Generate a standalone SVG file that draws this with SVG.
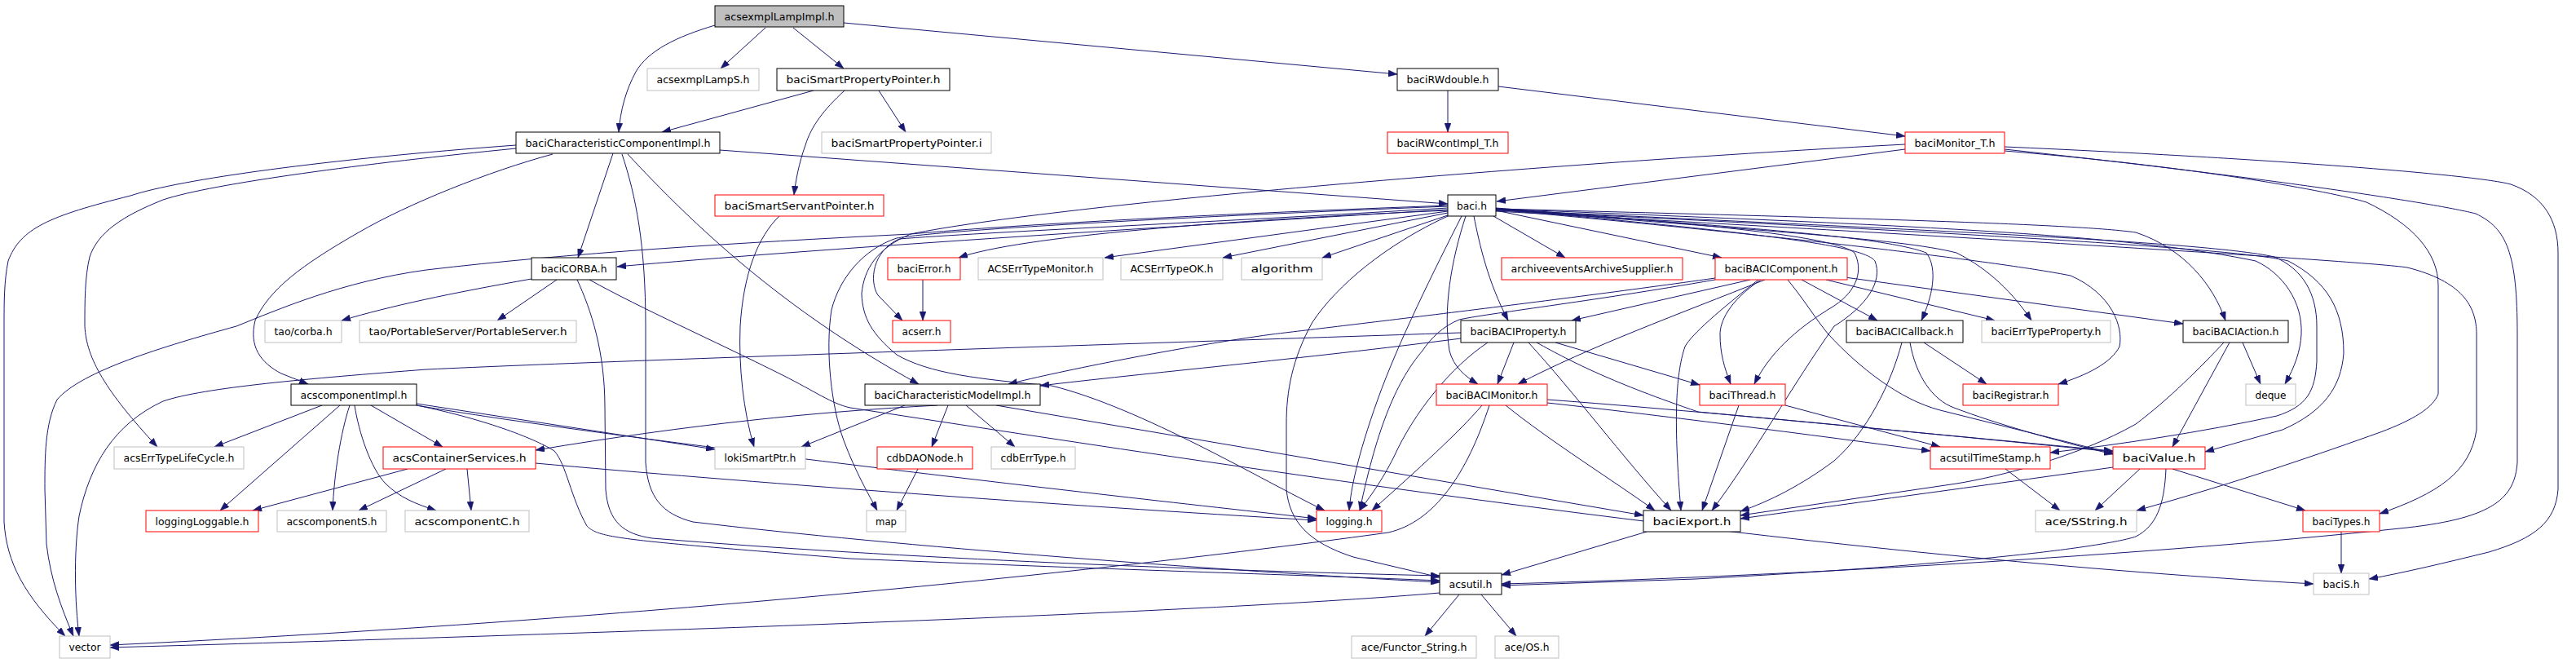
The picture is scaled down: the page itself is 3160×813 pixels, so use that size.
<svg xmlns="http://www.w3.org/2000/svg" width="3160" height="813" viewBox="0 0 3160 813">
<style>
.e{fill:none;stroke:#191970;stroke-width:1;marker-end:url(#ah)}
rect{fill:#fff;stroke-width:1}
.k{stroke:#000}
.g{stroke:#bfbfbf}
.r{stroke:#ff0000}
.root{fill:#bfbfbf;stroke:#000}
text{font-family:"DejaVu Sans","Liberation Sans",sans-serif;font-size:13px;fill:#000;text-anchor:middle}
</style>
<defs>
<marker id="ah" markerUnits="userSpaceOnUse" markerWidth="11" markerHeight="8" refX="11" refY="4" orient="auto">
<path d="M0,0 L11,4 L0,8 z" fill="#191970" stroke="#191970" stroke-width="0.5"/>
</marker>
</defs>
<rect x="0" y="0" width="3160" height="813" style="fill:#fff;stroke:none"/>
<g id="edges">
<path class="e" d="M877,31 C830,45 795,62 780,88 C768,110 761,135 759,162"/>
<path class="e" d="M939,34 L884,84"/>
<path class="e" d="M973,34 L1035,84"/>
<path class="e" d="M1035,28 L1714,91"/>
<path class="e" d="M998,111 L812,162"/>
<path class="e" d="M1036,111 C1010,135 995,155 988,178 C980,200 976,222 974,239"/>
<path class="e" d="M1078,111 L1111,162"/>
<path class="e" d="M1776,111 L1776,162"/>
<path class="e" d="M1838,106 L2337,167"/>
<path class="e" d="M883,184 L1776,250"/>
<path class="e" d="M2337,183 L1836,247"/>
<path class="e" d="M752,188 L709,316"/>
<path class="e" d="M633,178 C400,195 220,220 160,240 C60,265 25,280 10,320 C5,345 5,370 5,400 L5,640 C8,690 30,730 80,780"/>
<path class="e" d="M633,182 C450,200 260,225 200,245 C150,265 120,285 110,315 C104,340 104,370 104,400 C106,440 130,480 193,548"/>
<path class="e" d="M678,189 C600,210 500,250 440,285 C370,325 330,355 313,393 C305,425 320,445 345,458 L378,471"/>
<path class="e" d="M770,189 C850,275 960,380 1127,471"/>
<path class="e" d="M763,189 C780,240 792,300 792,400 L792,567 C795,610 812,630 850,640 C1100,670 1500,700 1766,714"/>
<path class="e" d="M956,265 C930,290 912,335 908,400 C906,450 912,505 925,548"/>
<path class="e" d="M652,342 C550,360 480,375 419,393"/>
<path class="e" d="M683,343 L610,393"/>
<path class="e" d="M708,343 C725,380 742,430 742,500 L743,600 C746,640 765,655 800,660 C1100,685 1500,700 1766,706"/>
<path class="e" d="M723,343 C790,380 870,415 960,460 C1000,480 1020,495 1043,500 C1500,570 2200,680 2838,716"/>
<path class="e" d="M1776,257 C1400,280 1000,305 757,327"/>
<path class="e" d="M1776,258 C1500,270 1250,290 1176,316"/>
<path class="e" d="M1776,259 L1355,316"/>
<path class="e" d="M1776,261 L1500,316"/>
<path class="e" d="M1776,264 L1622,316"/>
<path class="e" d="M1832,265 L1920,316"/>
<path class="e" d="M1835,258 L2112,316"/>
<path class="e" d="M1776,255 C1500,272 1200,285 1103,293 C1070,308 1066,345 1077,362 L1107,393"/>
<path class="e" d="M1132,343 L1132,393"/>
<path class="e" d="M1808,265 C1815,300 1825,345 1850,393"/>
<path class="e" d="M2147,343 L1928,393"/>
<path class="e" d="M2104,341 C1900,370 1600,405 1560,410 C1450,425 1300,455 1237,471"/>
<path class="e" d="M1792,415 C1600,440 1400,458 1276,473"/>
<path class="e" d="M1792,408 C1500,418 800,440 523,453 C380,464 250,475 200,492 C140,520 110,570 97,633 C90,680 92,740 97,780"/>
<path class="e" d="M1798,265 C1780,320 1770,380 1778,430 C1783,450 1798,462 1813,471"/>
<path class="e" d="M1857,420 L1837,471"/>
<path class="e" d="M2165,343 C2060,385 1950,425 1862,471"/>
<path class="e" d="M1793,265 C1760,330 1715,420 1690,490 C1665,560 1657,600 1655,626"/>
<path class="e" d="M1825,420 C1780,450 1735,505 1710,560 C1695,590 1680,610 1668,626"/>
<path class="e" d="M2104,343 C1950,370 1820,385 1790,392 C1770,400 1755,415 1745,430 C1715,465 1690,520 1668,626"/>
<path class="e" d="M1818,497 C1790,530 1740,575 1683,626"/>
<path class="e" d="M1847,497 C1900,540 1980,590 2030,626"/>
<path class="e" d="M1875,420 C1930,480 1990,560 2050,626"/>
<path class="e" d="M2157,343 C2110,380 2075,410 2067,425 C2055,460 2053,520 2062,626"/>
<path class="e" d="M1835,256 C2150,285 2285,300 2300,320 C2310,345 2290,375 2250,400 C2200,470 2150,560 2100,626"/>
<path class="e" d="M2133,497 L2088,626"/>
<path class="e" d="M2333,420 C2320,470 2290,530 2250,565 C2210,595 2170,615 2135,627"/>
<path class="e" d="M2592,573 C2400,600 2250,620 2135,636"/>
<path class="e" d="M2728,420 C2700,450 2660,490 2620,520 C2550,560 2450,585 2400,593 L2135,632"/>
<path class="e" d="M1222,497 L2016,632"/>
<path class="e" d="M2210,343 L2303,393"/>
<path class="e" d="M1835,256 C2150,280 2310,290 2363,310 C2378,330 2370,365 2357,393"/>
<path class="e" d="M2240,343 L2447,393"/>
<path class="e" d="M1835,256 C2150,283 2330,292 2400,310 C2440,330 2470,360 2492,393"/>
<path class="e" d="M2263,340 L2678,397"/>
<path class="e" d="M1835,256 C2300,268 2550,275 2620,285 C2680,305 2715,350 2730,393"/>
<path class="e" d="M1835,257 C2200,290 2460,322 2540,338 C2590,360 2605,400 2600,425 C2590,445 2560,460 2525,471"/>
<path class="e" d="M2360,420 L2437,471"/>
<path class="e" d="M2343,420 C2350,460 2370,490 2397,500 C2450,520 2520,540 2592,557"/>
<path class="e" d="M2193,343 C2215,370 2230,395 2243,410 C2280,450 2330,490 2380,503 L2592,556"/>
<path class="e" d="M2160,343 C2120,370 2110,395 2110,410 C2110,433 2115,450 2123,471"/>
<path class="e" d="M1835,255 C2100,275 2250,290 2275,310 C2285,330 2280,355 2250,375 C2200,405 2170,435 2152,471"/>
<path class="e" d="M1908,420 L2085,472"/>
<path class="e" d="M1885,420 C1930,445 1980,470 2083,505 L2592,553"/>
<path class="e" d="M1898,494 C2000,505 2200,530 2368,553"/>
<path class="e" d="M1898,490 C2100,505 2400,535 2592,554"/>
<path class="e" d="M2190,497 L2380,548"/>
<path class="e" d="M1835,257 C2300,280 2700,295 2790,315 C2825,330 2842,360 2842,400 L2842,443 C2840,480 2830,498 2793,510 C2700,530 2600,545 2515,555"/>
<path class="e" d="M1835,258 C2400,285 2750,305 2807,320 C2855,345 2875,380 2875,433 C2872,475 2850,505 2800,527 L2705,554"/>
<path class="e" d="M2735,420 L2665,548"/>
<path class="e" d="M2751,420 L2773,471"/>
<path class="e" d="M1835,256 C2300,275 2600,285 2767,320 C2800,335 2825,370 2823,410 C2822,430 2815,450 2803,471"/>
<path class="e" d="M1835,259 C2400,290 2900,320 2953,328 C3020,345 3038,375 3038,410 L3038,527 C3030,580 2990,605 2919,630"/>
<path class="e" d="M2459,180 C2800,195 3040,215 3080,226 C3120,240 3138,270 3138,310 L3138,600 C3135,640 3110,660 3053,677 C3000,690 2950,702 2906,710"/>
<path class="e" d="M2459,183 C2800,220 2990,250 3037,262 C3075,280 3088,310 3088,410 L3088,567 C3085,610 3060,635 2953,647 C2600,685 2100,710 1842,716"/>
<path class="e" d="M2459,185 C2700,205 2860,235 2903,248 C2960,275 2991,310 2991,350 L2991,483 C2985,500 2960,515 2920,530 C2850,555 2750,590 2621,626"/>
<path class="e" d="M2337,177 C1900,200 1300,250 1117,287 C1075,305 1060,330 1057,360 C1058,390 1070,410 1100,435 C1140,458 1200,465 1290,473 C1400,500 1550,590 1625,626"/>
<path class="e" d="M1776,253 C1400,268 1150,283 1100,292 C1060,305 1030,340 1020,380 C1012,430 1020,500 1035,540 C1050,580 1065,605 1076,626"/>
<path class="e" d="M1776,252 C1500,262 1250,275 1117,287 C900,298 700,310 523,331 C420,345 340,380 290,400 C200,425 100,455 70,490 C55,520 55,560 55,600 L57,667 C62,710 75,745 90,780"/>
<path class="e" d="M1776,265 C1700,300 1640,350 1610,395 C1585,440 1578,480 1578,520 L1578,600 C1582,640 1605,665 1660,683 L1766,708"/>
<path class="e" d="M2020,652 L1842,705"/>
<path class="e" d="M2657,575 C2655,620 2645,645 2620,658 C2590,668 2450,690 2080,710 L1842,718"/>
<path class="e" d="M2460,575 L2527,626"/>
<path class="e" d="M2625,575 L2570,626"/>
<path class="e" d="M2665,575 L2828,626"/>
<path class="e" d="M2872,652 L2872,703"/>
<path class="e" d="M1790,729 L1748,780"/>
<path class="e" d="M1817,729 L1860,780"/>
<path class="e" d="M1766,727 C1500,750 800,775 135,794"/>
<path class="e" d="M1827,497 C1800,580 1760,640 1703,653 C1400,695 800,760 135,791"/>
<path class="e" d="M395,497 L263,548"/>
<path class="e" d="M417,497 L270,626"/>
<path class="e" d="M429,497 C418,530 410,580 408,626"/>
<path class="e" d="M435,497 C440,530 455,575 473,593 C490,610 510,618 535,626"/>
<path class="e" d="M455,497 L543,548"/>
<path class="e" d="M511,495 L877,551"/>
<path class="e" d="M511,497 C700,530 1200,590 1563,630 L1615,636"/>
<path class="e" d="M511,497 C600,515 660,540 680,553 C695,570 700,610 720,645 C735,660 760,662 1043,685 C1400,700 1600,705 1766,712"/>
<path class="e" d="M500,575 L310,626"/>
<path class="e" d="M547,575 L440,626"/>
<path class="e" d="M573,575 L578,626"/>
<path class="e" d="M657,568 C900,590 1300,620 1615,638"/>
<path class="e" d="M1150,497 C1000,505 850,520 657,552"/>
<path class="e" d="M1110,497 L983,548"/>
<path class="e" d="M1163,497 L1143,548"/>
<path class="e" d="M1185,497 L1245,548"/>
<path class="e" d="M1126,575 L1100,626"/>
</g>
<g id="n1"><rect class="root" x="877" y="7" width="158" height="26"/><text x="956" y="25" textLength="135" lengthAdjust="spacingAndGlyphs">acsexmplLampImpl.h</text></g>
<g id="n2"><rect class="g" x="794" y="84" width="137" height="27"/><text x="862.5" y="102" textLength="114" lengthAdjust="spacingAndGlyphs">acsexmplLampS.h</text></g>
<g id="n3"><rect class="k" x="953" y="84" width="212" height="27"/><text x="1059" y="102" textLength="189" lengthAdjust="spacingAndGlyphs">baciSmartPropertyPointer.h</text></g>
<g id="n4"><rect class="k" x="1714" y="84" width="124" height="27"/><text x="1776" y="102" textLength="101" lengthAdjust="spacingAndGlyphs">baciRWdouble.h</text></g>
<g id="n5"><rect class="k" x="633" y="162" width="250" height="26"/><text x="758" y="180" textLength="227" lengthAdjust="spacingAndGlyphs">baciCharacteristicComponentImpl.h</text></g>
<g id="n6"><rect class="g" x="1008" y="162" width="208" height="26"/><text x="1112" y="180" textLength="185" lengthAdjust="spacingAndGlyphs">baciSmartPropertyPointer.i</text></g>
<g id="n7"><rect class="r" x="1702" y="162" width="148" height="26"/><text x="1776" y="180" textLength="125" lengthAdjust="spacingAndGlyphs">baciRWcontImpl_T.h</text></g>
<g id="n8"><rect class="r" x="2337" y="162" width="122" height="26"/><text x="2398" y="180" textLength="99" lengthAdjust="spacingAndGlyphs">baciMonitor_T.h</text></g>
<g id="n9"><rect class="r" x="877" y="239" width="207" height="26"/><text x="980.5" y="257" textLength="184" lengthAdjust="spacingAndGlyphs">baciSmartServantPointer.h</text></g>
<g id="n10"><rect class="k" x="1776" y="239" width="59" height="26"/><text x="1805.5" y="257" textLength="37" lengthAdjust="spacingAndGlyphs">baci.h</text></g>
<g id="n11"><rect class="k" x="652" y="316" width="104" height="27"/><text x="704" y="334" textLength="81" lengthAdjust="spacingAndGlyphs">baciCORBA.h</text></g>
<g id="n12"><rect class="r" x="1089" y="316" width="89" height="27"/><text x="1133.5" y="334" textLength="66" lengthAdjust="spacingAndGlyphs">baciError.h</text></g>
<g id="n13"><rect class="g" x="1200" y="316" width="153" height="27"/><text x="1276.5" y="334" textLength="130" lengthAdjust="spacingAndGlyphs">ACSErrTypeMonitor.h</text></g>
<g id="n14"><rect class="g" x="1375" y="316" width="125" height="27"/><text x="1437.5" y="334" textLength="102" lengthAdjust="spacingAndGlyphs">ACSErrTypeOK.h</text></g>
<g id="n15"><rect class="g" x="1523" y="316" width="99" height="27"/><text x="1572.5" y="334" textLength="76" lengthAdjust="spacingAndGlyphs">algorithm</text></g>
<g id="n16"><rect class="r" x="1842" y="316" width="222" height="27"/><text x="1953" y="334" textLength="199" lengthAdjust="spacingAndGlyphs">archiveeventsArchiveSupplier.h</text></g>
<g id="n17"><rect class="r" x="2104" y="316" width="162" height="27"/><text x="2185" y="334" textLength="139" lengthAdjust="spacingAndGlyphs">baciBACIComponent.h</text></g>
<g id="n18"><rect class="g" x="325" y="393" width="94" height="27"/><text x="372" y="411" textLength="71" lengthAdjust="spacingAndGlyphs">tao/corba.h</text></g>
<g id="n19"><rect class="g" x="441" y="393" width="266" height="27"/><text x="574" y="411" textLength="243" lengthAdjust="spacingAndGlyphs">tao/PortableServer/PortableServer.h</text></g>
<g id="n20"><rect class="r" x="1095" y="393" width="71" height="27"/><text x="1130.5" y="411" textLength="48" lengthAdjust="spacingAndGlyphs">acserr.h</text></g>
<g id="n21"><rect class="k" x="1792" y="393" width="141" height="27"/><text x="1862.5" y="411" textLength="118" lengthAdjust="spacingAndGlyphs">baciBACIProperty.h</text></g>
<g id="n22"><rect class="k" x="2265" y="393" width="143" height="27"/><text x="2336.5" y="411" textLength="120" lengthAdjust="spacingAndGlyphs">baciBACICallback.h</text></g>
<g id="n23"><rect class="g" x="2431" y="393" width="158" height="27"/><text x="2510" y="411" textLength="135" lengthAdjust="spacingAndGlyphs">baciErrTypeProperty.h</text></g>
<g id="n24"><rect class="k" x="2678" y="393" width="129" height="27"/><text x="2742.5" y="411" textLength="106" lengthAdjust="spacingAndGlyphs">baciBACIAction.h</text></g>
<g id="n25"><rect class="k" x="357" y="471" width="154" height="26"/><text x="434" y="489" textLength="131" lengthAdjust="spacingAndGlyphs">acscomponentImpl.h</text></g>
<g id="n26"><rect class="k" x="1061" y="471" width="215" height="26"/><text x="1168.5" y="489" textLength="192" lengthAdjust="spacingAndGlyphs">baciCharacteristicModelImpl.h</text></g>
<g id="n27"><rect class="r" x="1762" y="471" width="136" height="26"/><text x="1830" y="489" textLength="113" lengthAdjust="spacingAndGlyphs">baciBACIMonitor.h</text></g>
<g id="n28"><rect class="r" x="2085" y="471" width="105" height="26"/><text x="2137.5" y="489" textLength="82" lengthAdjust="spacingAndGlyphs">baciThread.h</text></g>
<g id="n29"><rect class="r" x="2408" y="471" width="117" height="26"/><text x="2466.5" y="489" textLength="94" lengthAdjust="spacingAndGlyphs">baciRegistrar.h</text></g>
<g id="n30"><rect class="g" x="2755" y="471" width="61" height="26"/><text x="2785.5" y="489" textLength="38" lengthAdjust="spacingAndGlyphs">deque</text></g>
<g id="n31"><rect class="g" x="140" y="548" width="159" height="27"/><text x="219.5" y="566" textLength="136" lengthAdjust="spacingAndGlyphs">acsErrTypeLifeCycle.h</text></g>
<g id="n32"><rect class="r" x="470" y="548" width="187" height="27"/><text x="563.5" y="566" textLength="164" lengthAdjust="spacingAndGlyphs">acsContainerServices.h</text></g>
<g id="n33"><rect class="g" x="877" y="548" width="111" height="27"/><text x="932.5" y="566" textLength="88" lengthAdjust="spacingAndGlyphs">lokiSmartPtr.h</text></g>
<g id="n34"><rect class="r" x="1076" y="548" width="117" height="27"/><text x="1134.5" y="566" textLength="94" lengthAdjust="spacingAndGlyphs">cdbDAONode.h</text></g>
<g id="n35"><rect class="g" x="1216" y="548" width="103" height="27"/><text x="1267.5" y="566" textLength="80" lengthAdjust="spacingAndGlyphs">cdbErrType.h</text></g>
<g id="n36"><rect class="r" x="2368" y="548" width="147" height="27"/><text x="2441.5" y="566" textLength="124" lengthAdjust="spacingAndGlyphs">acsutilTimeStamp.h</text></g>
<g id="n37"><rect class="r" x="2592" y="548" width="113" height="27"/><text x="2648.5" y="566" textLength="90" lengthAdjust="spacingAndGlyphs">baciValue.h</text></g>
<g id="n38"><rect class="r" x="179" y="626" width="138" height="26"/><text x="248" y="644" textLength="115" lengthAdjust="spacingAndGlyphs">loggingLoggable.h</text></g>
<g id="n39"><rect class="g" x="340" y="626" width="134" height="26"/><text x="407" y="644" textLength="111" lengthAdjust="spacingAndGlyphs">acscomponentS.h</text></g>
<g id="n40"><rect class="g" x="497" y="626" width="152" height="26"/><text x="573" y="644" textLength="129" lengthAdjust="spacingAndGlyphs">acscomponentC.h</text></g>
<g id="n41"><rect class="g" x="1063" y="626" width="48" height="26"/><text x="1087" y="644" textLength="26" lengthAdjust="spacingAndGlyphs">map</text></g>
<g id="n42"><rect class="r" x="1615" y="626" width="80" height="26"/><text x="1655" y="644" textLength="57" lengthAdjust="spacingAndGlyphs">logging.h</text></g>
<g id="n43"><rect class="k" x="2016" y="626" width="119" height="26"/><text x="2075.5" y="644" textLength="96" lengthAdjust="spacingAndGlyphs">baciExport.h</text></g>
<g id="n44"><rect class="g" x="2497" y="626" width="124" height="26"/><text x="2559" y="644" textLength="101" lengthAdjust="spacingAndGlyphs">ace/SString.h</text></g>
<g id="n45"><rect class="r" x="2825" y="626" width="94" height="26"/><text x="2872" y="644" textLength="71" lengthAdjust="spacingAndGlyphs">baciTypes.h</text></g>
<g id="n46"><rect class="k" x="1766" y="703" width="76" height="26"/><text x="1804" y="721" textLength="53" lengthAdjust="spacingAndGlyphs">acsutil.h</text></g>
<g id="n47"><rect class="g" x="2838" y="703" width="68" height="26"/><text x="2872" y="721" textLength="45" lengthAdjust="spacingAndGlyphs">baciS.h</text></g>
<g id="n48"><rect class="g" x="73" y="780" width="62" height="27"/><text x="104" y="798" textLength="39" lengthAdjust="spacingAndGlyphs">vector</text></g>
<g id="n49"><rect class="g" x="1658" y="780" width="153" height="27"/><text x="1734.5" y="798" textLength="130" lengthAdjust="spacingAndGlyphs">ace/Functor_String.h</text></g>
<g id="n50"><rect class="g" x="1834" y="780" width="78" height="27"/><text x="1873" y="798" textLength="55" lengthAdjust="spacingAndGlyphs">ace/OS.h</text></g>
</svg>
